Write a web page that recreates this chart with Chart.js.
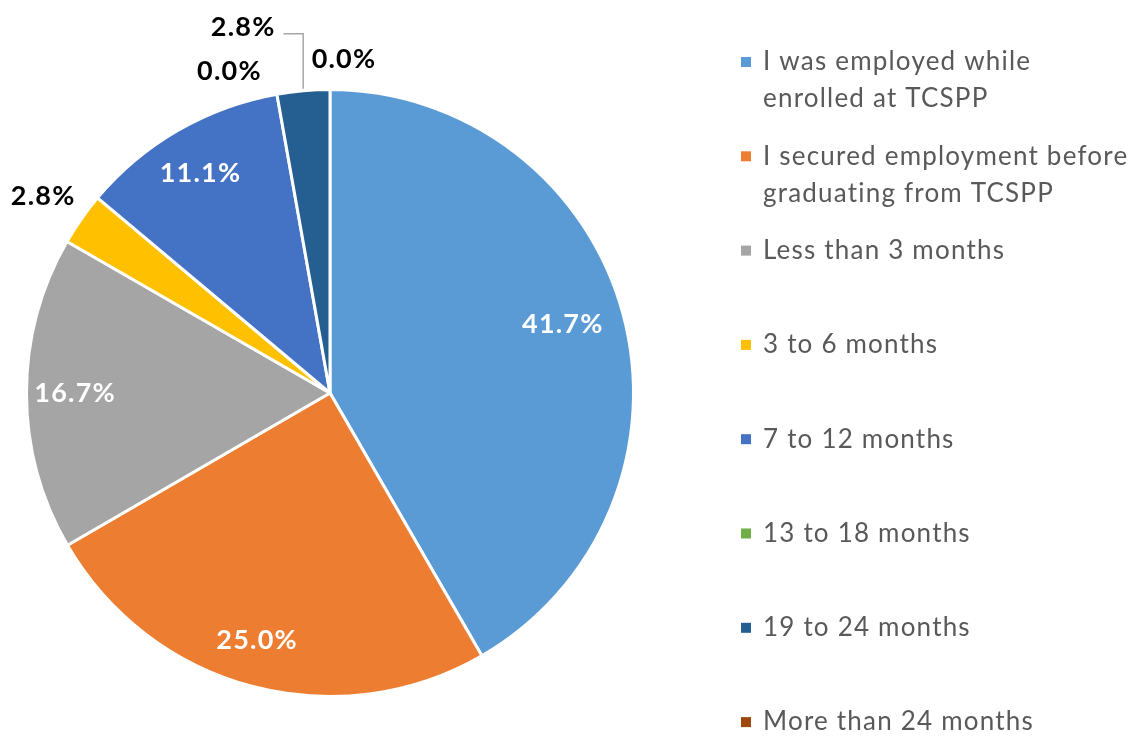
<!DOCTYPE html>
<html><head><meta charset="utf-8">
<script src="https://cdn.jsdelivr.net/npm/chart.js@4.4.1/dist/chart.umd.min.js"></script>
<style>html,body{margin:0;padding:0;background:#fff;}#wrap{position:relative;width:1138px;height:736px;}</style>
</head><body><div id="wrap"><canvas id="c" width="1138" height="736"></canvas></div>
<script>
const categories = [
  ["I was employed while", "enrolled at TCSPP"],
  ["I secured employment before", "graduating from TCSPP"],
  ["Less than 3 months"],
  ["3 to 6 months"],
  ["7 to 12 months"],
  ["13 to 18 months"],
  ["19 to 24 months"],
  ["More than 24 months"]
];
const values = [41.7, 25.0, 16.7, 2.8, 11.1, 0.0, 2.8, 0.0];
const colors = ["#5B9BD5", "#ED7D31", "#A5A5A5", "#FFC000", "#4472C4", "#70AD47", "#255E91", "#9E480E"];

// label placement: radius factor, angle offset (deg), inside/outside, leader line
const labelPlace = [
  {f:0.80, da:-1.5, inside:true},
  {f:0.85, da:1.5, inside:true},
  {f:0.84, da:0, inside:true},
  {f:1.145, da:-0.6, inside:false},
  {f:0.84, da:-0.5, inside:false, white:true},
  {f:1.11, da:-7.3, inside:false},
  {f:1.24, da:-8.3, inside:false, leader:true},
  {f:1.10, da:2.4, inside:false}
];

const FONT = "Lato, 'Open Sans', sans-serif";

const labelPlugin = {
  id: 'pieLabels',
  afterDatasetsDraw(chart) {
    const ctx = chart.ctx;
    const meta = chart.getDatasetMeta(0);
    ctx.save();
    ctx.font = "bold 27px " + FONT;
    ctx.letterSpacing = "1.2px";
    ctx.textAlign = "center";
    ctx.textBaseline = "middle";
    meta.data.forEach((arc, i) => {
      const p = arc.getProps(['x','y','startAngle','endAngle','outerRadius'], true);
      const lp = labelPlace[i];
      const mid = (p.startAngle + p.endAngle) / 2 + lp.da * Math.PI / 180;
      const lx = p.x + Math.cos(mid) * p.outerRadius * lp.f;
      const ly = p.y + Math.sin(mid) * p.outerRadius * lp.f;
      const txt = values[i].toFixed(1) + "%";
      ctx.fillStyle = (lp.inside || lp.white) ? "#FFFFFF" : "#000000";
      ctx.fillText(txt, lx, ly);
      if (lp.leader) {
        const m0 = (p.startAngle + p.endAngle) / 2;
        const sx = p.x + Math.cos(m0) * (p.outerRadius + 2);
        const sy = p.y + Math.sin(m0) * (p.outerRadius + 2);
        const w = ctx.measureText(txt).width;
        ctx.strokeStyle = "#A6A6A6";
        ctx.lineWidth = 1.5;
        ctx.beginPath();
        ctx.moveTo(sx, sy);
        ctx.lineTo(sx, ly + 7);
        ctx.lineTo(lx + w / 2 + 8, ly + 7);
        ctx.stroke();
      }
    });
    ctx.restore();
  }
};

const legendPlugin = {
  id: 'sideLegend',
  afterDraw(chart) {
    const ctx = chart.ctx;
    ctx.save();
    ctx.font = "26px " + FONT;
    ctx.letterSpacing = "1.2px";
    ctx.textAlign = "left";
    ctx.textBaseline = "middle";
    categories.forEach((lines, i) => {
      const y0 = 62 + i * 94.3;
      ctx.fillStyle = colors[i];
      ctx.fillRect(741, y0 - 5, 10, 10);
      ctx.fillStyle = "#595959";
      lines.forEach((ln, j) => ctx.fillText(ln, 763, y0 + j * 37));
    });
    ctx.restore();
  }
};

new Chart(document.getElementById('c'), {
  type: 'pie',
  data: {
    labels: categories.map(l => l.join(' ')),
    datasets: [{
      data: values,
      backgroundColor: colors,
      borderColor: "#FFFFFF",
      borderWidth: 3
    }]
  },
  options: {
    responsive: false,
    animation: false,
    layout: { padding: { left: 25, right: 503, top: 88, bottom: 38 } },
    plugins: { legend: { display: false }, tooltip: { enabled: false } }
  },
  plugins: [labelPlugin, legendPlugin]
});
</script></body></html>
